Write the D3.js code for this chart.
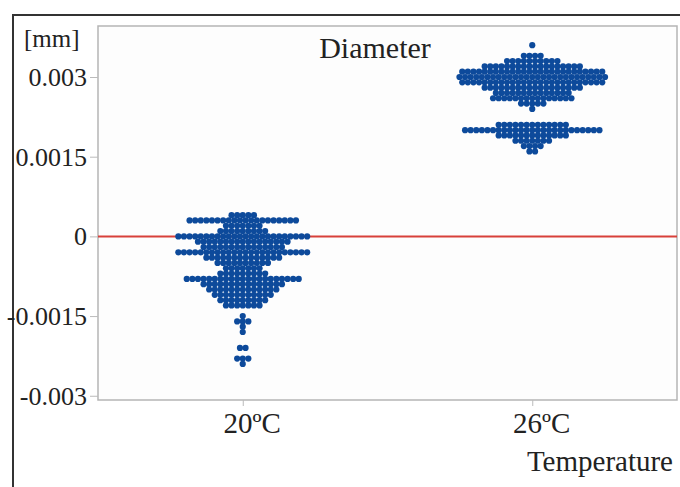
<!DOCTYPE html>
<html>
<head>
<meta charset="utf-8">
<script src="https://cdn.jsdelivr.net/npm/d3@7"></script>
<style>
  body { margin: 0; background: #fff; }
  svg text { font-family: "Liberation Serif", "DejaVu Serif", serif; fill: #222; }
</style>
</head>
<body>
<div id="chart"></div>
<script>
// categories
var groups = ["20ºC", "26ºC"];
var yTicks = [0.003, 0.0015, 0, -0.0015, -0.003];
var yTickLabels = ["0.003", "0.0015", "0", "-0.0015", "-0.003"];

// dot rows per group: value level [mm] and number of dots at that level
var levels20 = [0.0004, 0.0003, 0.0002, 0.0001, 0, -0.0001, -0.0002, -0.0003, -0.0004, -0.0005, -0.0006,
  -0.0007, -0.0008, -0.0009, -0.001, -0.0011, -0.0012, -0.0013, -0.0015, -0.0016, -0.0017, -0.0018,
  -0.0021, -0.0023, -0.0024];
var counts20 = [5, 20, 7, 9, 24, 17, 15, 24, 14, 10, 7, 9, 21, 15, 13, 11, 9, 7, 1, 3, 1, 1, 2, 3, 1];

var levels26 = [0.0036, 0.0034, 0.0033, 0.0032, 0.0031, 0.003, 0.0029, 0.0028, 0.0027, 0.0026, 0.0025,
  0.0024, 0.0021, 0.002, 0.0019, 0.0018, 0.0017, 0.0016];
var counts26 = [1, 4, 10, 18, 26, 27, 26, 18, 14, 15, 5, 1, 13, 25, 13, 7, 4, 2];

var width = 680, height = 487;
var margin = {left: 98, right: 3, top: 26, bottom: 87};

var svg = d3.select("#chart")
  .append("svg")
    .attr("width", width)
    .attr("height", height);

// outer frame (only top and left edges visible)
svg.append("path")
  .attr("d", "M13,487 V15 H680")
  .attr("fill", "none")
  .attr("stroke", "#333")
  .attr("stroke-width", 2);

var x = d3.scalePoint()
  .domain(groups)
  .range([margin.left, width - margin.right])
  .padding(0.5);

var y = d3.scaleLinear()
  .domain([-0.00308, 0.00396])
  .range([height - margin.bottom, margin.top]);

// plot area
svg.append("rect")
  .attr("x", margin.left)
  .attr("y", margin.top)
  .attr("width", width - margin.right - margin.left)
  .attr("height", height - margin.bottom - margin.top)
  .attr("fill", "#fdfdfd")
  .attr("stroke", "#b5b5b5")
  .attr("stroke-width", 1.5);

// Y axis
var yAxis = svg.append("g")
  .attr("transform", "translate(" + margin.left + ",0)")
  .call(d3.axisLeft(y).tickValues(yTicks).tickSize(8).tickPadding(3)
    .tickFormat(function(d, i) { return yTickLabels[i]; }));
yAxis.select(".domain").remove();
yAxis.selectAll("line").attr("stroke", "#bbb");
yAxis.selectAll("text").attr("font-size", 26).attr("fill", "#222")
  .style("font-family", "Liberation Serif");

// X axis
var xAxis = svg.append("g")
  .attr("transform", "translate(0," + (height - margin.bottom) + ")")
  .call(d3.axisBottom(x).tickSize(6).tickPadding(6));
xAxis.select(".domain").remove();
xAxis.selectAll("line").attr("stroke", "#bbb");
xAxis.selectAll("text").attr("font-size", 29).attr("fill", "#222")
  .attr("dx", 9)
  .style("font-family", "Liberation Serif");

// zero reference line
svg.append("line")
  .attr("x1", margin.left)
  .attr("x2", width - margin.right)
  .attr("y1", y(0))
  .attr("y2", y(0))
  .attr("stroke", "#d8403a")
  .attr("stroke-width", 2);

// expand rows to dots
var dx = 5.6;
var dots = [];
function addRows(group, levels, counts) {
  levels.forEach(function(v, i) {
    var n = counts[i];
    for (var k = 0; k < n; k++) {
      dots.push({group: group, value: v, offset: (k - (n - 1) / 2) * dx});
    }
  });
}
addRows(groups[0], levels20, counts20);
addRows(groups[1], levels26, counts26);

svg.append("g")
  .selectAll("circle")
  .data(dots)
  .enter()
  .append("circle")
    .attr("cx", function(d) { return x(d.group) + d.offset; })
    .attr("cy", function(d) { return y(d.value); })
    .attr("r", 3.1)
    .attr("fill", "#0d4a9b");

// labels
svg.append("text")
  .attr("x", 24).attr("y", 47)
  .attr("font-size", 25)
  .text("[mm]");

svg.append("text")
  .attr("x", 375).attr("y", 58)
  .attr("text-anchor", "middle")
  .attr("font-size", 30)
  .text("Diameter");

svg.append("text")
  .attr("x", 673).attr("y", 471)
  .attr("text-anchor", "end")
  .attr("font-size", 29)
  .text("Temperature");
</script>
</body>
</html>
